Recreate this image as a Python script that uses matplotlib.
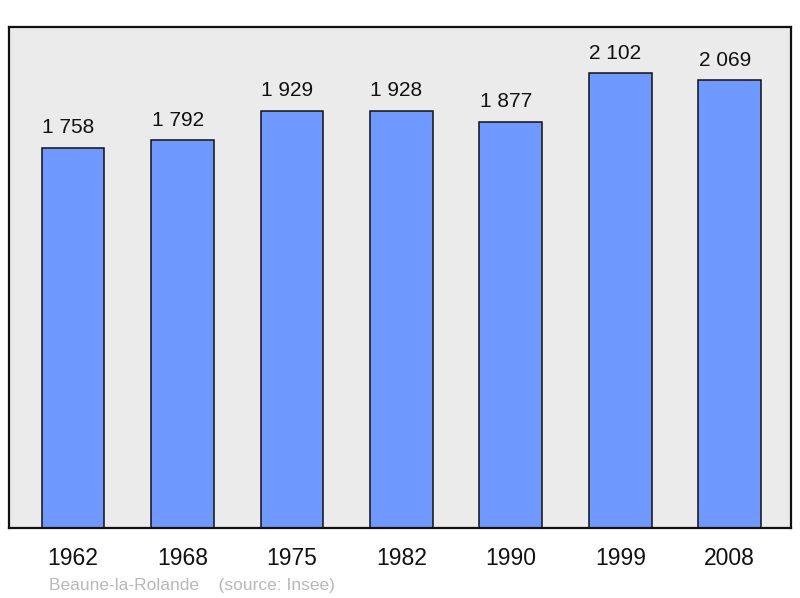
import matplotlib
matplotlib.use("Agg")
import matplotlib.pyplot as plt

plt.rcParams["font.family"] = ["Liberation Sans", "DejaVu Sans"]

years = ["1962", "1968", "1975", "1982", "1990", "1999", "2008"]
population = [1758, 1792, 1929, 1928, 1877, 2102, 2069]
value_labels = ["1 758", "1 792", "1 929", "1 928", "1 877", "2 102", "2 069"]

W, H = 800, 598
fig = plt.figure(figsize=(W / 100, H / 100), dpi=100)
ax = fig.add_axes([9 / W, (H - 528) / H, 782 / W, 501 / H])
ax.set_facecolor("#ebebeb")

x = list(range(len(years)))
ax.bar(x, population, width=0.573, color="#7099ff", edgecolor="#111111", linewidth=1.1, zorder=2)
for xi, v, lab in zip(x, population, value_labels):
    ax.annotate(lab, (xi, v), xytext=(-3.5, 10.5), textcoords="offset points",
                ha="center", va="baseline", fontsize=15, color="#111111")

ax.set_xlim(-0.585, 6.56)
ax.set_ylim(0, 2316)
ax.set_xticks(x)
ax.set_xticklabels(years, fontsize=16.5, color="#111111")
ax.tick_params(axis="x", length=0, pad=14)
ax.set_yticks([])
for s in ax.spines.values():
    s.set_linewidth(1.6)
    s.set_color("#111111")

fig.text(49 / W, (H - 590) / H, "Beaune-la-Rolande    (source: Insee)",
         fontsize=12.5, color="#b8b8b8", ha="left", va="baseline")

fig.savefig("out.png", dpi=100)
